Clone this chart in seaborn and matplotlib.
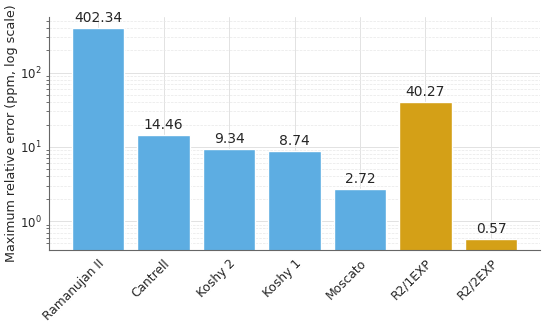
import matplotlib
matplotlib.use("Agg")
import matplotlib.pyplot as plt
import matplotlib.ticker as mticker
import seaborn as sns
import pandas as pd

methods = ["Ramanujan II", "Cantrell", "Koshy 2", "Koshy 1", "Moscato", "R2/1EXP", "R2/2EXP"]
errors = [402.34, 14.46, 9.34, 8.74, 2.72, 40.27, 0.57]
groups = ["prior", "prior", "prior", "prior", "prior", "new", "new"]

df = pd.DataFrame({"method": methods, "error": errors, "group": groups})

sns.set_style("white")
plt.rcParams['font.family'] = ['DejaVu Sans']

fig = plt.figure(figsize=(5.5, 3.22), dpi=100)
ax = fig.add_axes([0.089, 0.224, 0.893, 0.723])

sns.barplot(data=df, x="method", y="error", hue="group",
            palette={"prior": "#5DADE2", "new": "#D4A017"},
            dodge=False, legend=False, width=0.8, ax=ax, saturation=1)
ax.set_yscale("log")
ax.set_ylim(0.41, 560)
ax.set_xlim(-0.75, 6.75)

for i, v in enumerate(errors):
    ax.text(i, v * 1.09, f"{v:.2f}", ha="center", va="bottom", fontsize=10)

ax.xaxis.set_minor_locator(mticker.NullLocator())
ax.grid(True, which="major", color="#e2e2e2", linewidth=0.7)
ax.grid(True, which="minor", axis="y", color="#e8e8e8", linewidth=0.5, linestyle="--")
ax.set_axisbelow(True)
ax.tick_params(axis="x", which="major", labelsize=8.8, color="#555555", length=3, pad=2)
ax.tick_params(axis="y", which="major", labelsize=8.5, color="#555555", length=3, pad=2)
ax.tick_params(axis="y", which="minor", color="#555555", length=2, left=True)

for s in ["top", "right"]:
    ax.spines[s].set_visible(False)
for s in ["left", "bottom"]:
    ax.spines[s].set_color("#666666")

ax.set_xlabel("")
ax.set_ylabel("Maximum relative error (ppm, log scale)", fontsize=9.2)
ax.yaxis.set_label_coords(-0.062, 0.5)
plt.setp(ax.get_xticklabels(), rotation=45, ha="right", rotation_mode="anchor")

fig.savefig("out.png", dpi=100)
